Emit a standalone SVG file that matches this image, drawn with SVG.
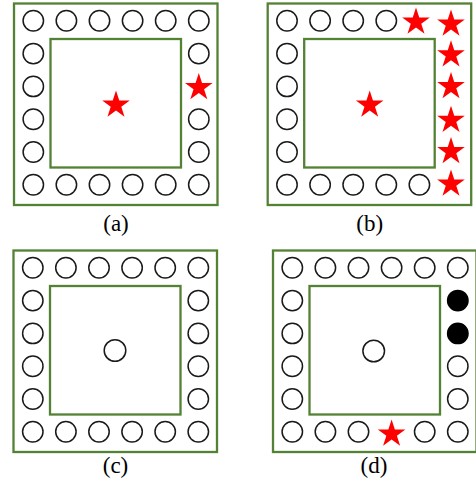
<svg xmlns="http://www.w3.org/2000/svg" xmlns:xlink="http://www.w3.org/1999/xlink" width="476" height="486" viewBox="0 0 476 486">
<style>
.frame{fill:none;stroke:#548235;stroke-width:2.3}
.c{fill:#fff;stroke:#1a1a1a;stroke-width:1.5}
.f{fill:#000;stroke:#000;stroke-width:1.5}
.s{fill:#ff0000}
.lbl{font-family:"Liberation Serif","Times New Roman",serif;font-size:23px;fill:#000;text-anchor:middle}
</style>
<defs>
<path id="star" d="M0,-14.5 L3.26,-4.48 L13.79,-4.48 L5.27,1.71 L8.52,11.73 L0,5.54 L-8.52,11.73 L-5.27,1.71 L-13.79,-4.48 L-3.26,-4.48 Z"/>
</defs>
<rect width="476" height="486" fill="#fff"/>

<g id="panel-a">
<rect class="frame" x="14" y="3.5" width="203.5" height="201.5"/>
<rect class="frame" x="50.5" y="39" width="130.5" height="128.5"/>
<g>
<circle class="c" cx="33.3" cy="20.8" r="10.2"/><circle class="c" cx="66.4" cy="20.8" r="10.2"/><circle class="c" cx="99.5" cy="20.8" r="10.2"/><circle class="c" cx="132.6" cy="20.8" r="10.2"/><circle class="c" cx="165.7" cy="20.8" r="10.2"/><circle class="c" cx="198.8" cy="20.8" r="10.2"/>
<circle class="c" cx="33.3" cy="53.6" r="10.2"/><circle class="c" cx="33.3" cy="86.4" r="10.2"/><circle class="c" cx="33.3" cy="119.2" r="10.2"/><circle class="c" cx="33.3" cy="152" r="10.2"/>
<circle class="c" cx="198.8" cy="53.6" r="10.2"/><use href="#star" class="s" x="198.8" y="87.5"/><circle class="c" cx="198.8" cy="119.2" r="10.2"/><circle class="c" cx="198.8" cy="152" r="10.2"/>
<circle class="c" cx="33.3" cy="184.8" r="10.2"/><circle class="c" cx="66.4" cy="184.8" r="10.2"/><circle class="c" cx="99.5" cy="184.8" r="10.2"/><circle class="c" cx="132.6" cy="184.8" r="10.2"/><circle class="c" cx="165.7" cy="184.8" r="10.2"/><circle class="c" cx="198.8" cy="184.8" r="10.2"/>
<use href="#star" class="s" x="116" y="105"/>
</g>
<text class="lbl" x="116" y="230.5">(a)</text>
</g>

<g id="panel-b" transform="translate(253.7,0)">
<rect class="frame" x="14" y="3.5" width="203.5" height="201.5"/>
<rect class="frame" x="50.5" y="39" width="130.5" height="128.5"/>
<circle class="c" cx="33.3" cy="20.8" r="10.2"/><circle class="c" cx="66.4" cy="20.8" r="10.2"/><circle class="c" cx="99.5" cy="20.8" r="10.2"/><circle class="c" cx="132.6" cy="20.8" r="10.2"/><use href="#star" class="s" x="162.3" y="22"/><use href="#star" class="s" x="197.3" y="24"/>
<circle class="c" cx="33.3" cy="53.6" r="10.2"/><circle class="c" cx="33.3" cy="86.4" r="10.2"/><circle class="c" cx="33.3" cy="119.2" r="10.2"/><circle class="c" cx="33.3" cy="152" r="10.2"/>
<use href="#star" class="s" x="197.3" y="54.8"/><use href="#star" class="s" x="197.3" y="86.5"/><use href="#star" class="s" x="197.3" y="120.3"/><use href="#star" class="s" x="197.3" y="151.5"/>
<circle class="c" cx="33.3" cy="184.8" r="10.2"/><circle class="c" cx="66.4" cy="184.8" r="10.2"/><circle class="c" cx="99.5" cy="184.8" r="10.2"/><circle class="c" cx="132.6" cy="184.8" r="10.2"/><circle class="c" cx="165.7" cy="184.8" r="10.2"/><use href="#star" class="s" x="197.3" y="184"/>
<use href="#star" class="s" x="116" y="105"/>
<text class="lbl" x="116" y="230.5">(b)</text>
</g>

<g id="panel-c" transform="translate(-0.5,247)">
<rect class="frame" x="14" y="3.5" width="203.5" height="201.5"/>
<rect class="frame" x="50.5" y="39" width="130.5" height="128.5"/>
<circle class="c" cx="33.3" cy="20.8" r="10.2"/><circle class="c" cx="66.4" cy="20.8" r="10.2"/><circle class="c" cx="99.5" cy="20.8" r="10.2"/><circle class="c" cx="132.6" cy="20.8" r="10.2"/><circle class="c" cx="165.7" cy="20.8" r="10.2"/><circle class="c" cx="198.8" cy="20.8" r="10.2"/>
<circle class="c" cx="33.3" cy="53.6" r="10.2"/><circle class="c" cx="33.3" cy="86.4" r="10.2"/><circle class="c" cx="33.3" cy="119.2" r="10.2"/><circle class="c" cx="33.3" cy="152" r="10.2"/>
<circle class="c" cx="198.8" cy="53.6" r="10.2"/><circle class="c" cx="198.8" cy="86.4" r="10.2"/><circle class="c" cx="198.8" cy="119.2" r="10.2"/><circle class="c" cx="198.8" cy="152" r="10.2"/>
<circle class="c" cx="33.3" cy="184.8" r="10.2"/><circle class="c" cx="66.4" cy="184.8" r="10.2"/><circle class="c" cx="99.5" cy="184.8" r="10.2"/><circle class="c" cx="132.6" cy="184.8" r="10.2"/><circle class="c" cx="165.7" cy="184.8" r="10.2"/><circle class="c" cx="198.8" cy="184.8" r="10.2"/>
<circle class="c" cx="115.5" cy="103.5" r="10.8"/>
<text class="lbl" x="116" y="225.5">(c)</text>
</g>

<g id="panel-d" transform="translate(259,247)">
<rect class="frame" x="14" y="3.5" width="203.5" height="201.5"/>
<rect class="frame" x="50.5" y="39" width="130.5" height="128.5"/>
<circle class="c" cx="33.3" cy="20.8" r="10.2"/><circle class="c" cx="66.4" cy="20.8" r="10.2"/><circle class="c" cx="99.5" cy="20.8" r="10.2"/><circle class="c" cx="132.6" cy="20.8" r="10.2"/><circle class="c" cx="165.7" cy="20.8" r="10.2"/><circle class="c" cx="198.8" cy="20.8" r="10.2"/>
<circle class="c" cx="33.3" cy="53.6" r="10.2"/><circle class="c" cx="33.3" cy="86.4" r="10.2"/><circle class="c" cx="33.3" cy="119.2" r="10.2"/><circle class="c" cx="33.3" cy="152" r="10.2"/>
<circle class="f" cx="198.8" cy="53.6" r="10.2"/><circle class="f" cx="198.8" cy="86.4" r="10.2"/><circle class="c" cx="198.8" cy="119.2" r="10.2"/><circle class="c" cx="198.8" cy="152" r="10.2"/>
<circle class="c" cx="33.3" cy="184.8" r="10.2"/><circle class="c" cx="66.4" cy="184.8" r="10.2"/><circle class="c" cx="99.5" cy="184.8" r="10.2"/><use href="#star" class="s" x="132.6" y="187"/><circle class="c" cx="165.7" cy="184.8" r="10.2"/><circle class="c" cx="198.8" cy="184.8" r="10.2"/>
<circle class="c" cx="114.7" cy="104" r="10.8"/>
<text class="lbl" x="115" y="225.5">(d)</text>
</g>
</svg>
